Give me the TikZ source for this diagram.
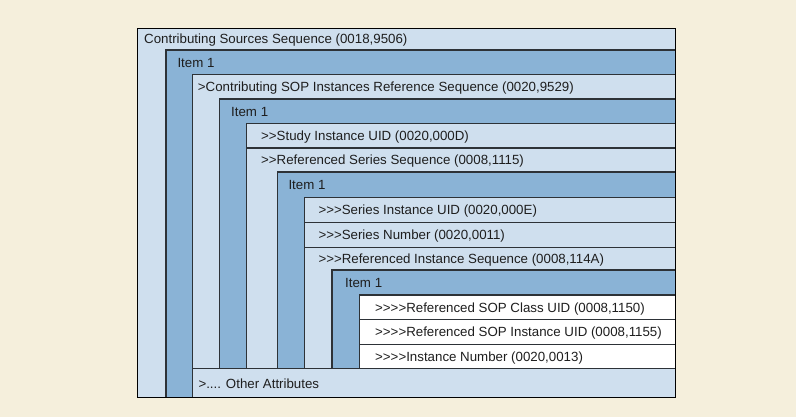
\documentclass[tikz,border=0pt]{standalone}
\usepackage{fontspec}
\setmainfont{Liberation Sans}[Ligatures=TeXOff]
\definecolor{bg}{RGB}{245,239,220}
\definecolor{lightb}{RGB}{207,223,238}
\definecolor{darkb}{RGB}{138,179,214}
\definecolor{edge}{RGB}{45,50,55}
\definecolor{txt}{RGB}{30,30,30}
\begin{document}
\begin{tikzpicture}[x=1pt,y=-1pt,
  lvl/.style={draw=edge,line width=1.4pt},
  lightbox/.style={lvl,fill=lightb},
  darkbox/.style={lvl,fill=darkb},
  whitebox/.style={lvl,fill=white},
  sep/.style={draw=edge,line width=1.4pt},
  lbl/.style={anchor=base west,inner sep=0pt,text=txt,font=\fontsize{13.3}{16}\selectfont}]
\useasboundingbox[fill=bg] (0,0) rectangle (796,417);
\def\R{675.7}
% nested levels
\path[lightbox] (137.7,28.3) rectangle (\R,397.7);
\path[darkbox]  (166,50) rectangle (\R,397.7);
\path[lightbox] (192.7,74.3) rectangle (\R,397.7);
\path[sep] (192.7,368.3) -- (\R,368.3);
\path[darkbox]  (219.3,99) rectangle (\R,368.3);
\path[lightbox] (246.7,123.3) rectangle (\R,368.3);
\path[sep] (246.7,148) -- (\R,148);
\path[darkbox]  (277.7,172) rectangle (\R,368.3);
\path[lightbox] (304.3,197.3) rectangle (\R,368.3);
\path[sep] (304.3,222.3) -- (\R,222.3);
\path[sep] (304.3,247.3) -- (\R,247.3);
\path[darkbox]  (332,270) rectangle (\R,368.3);
\path[whitebox] (359.3,295) rectangle (\R,368.3);
\path[sep] (359.3,319.3) -- (\R,319.3);
\path[sep] (359.3,344.3) -- (\R,344.3);
\draw[draw=black,line width=1.5pt] (137.7,28.3) rectangle (\R,397.7);
% labels
\node[lbl] (t0) at (144,43.3) {Contributing Sources Sequence (0018,9506)};
\node[lbl] (t1) at (177.3,67.3) {Item 1};
\node[lbl] (t2) at (197.7,91.7) {>Contributing SOP Instances Reference Sequence (0020,9529)};
\node[lbl] (t3) at (231,116.2) {Item 1};
\node[lbl] (t4a) at (261,140.7) {>>Study Instance UID (0020,000D)};
\node[lbl] (t4b) at (261,165) {>>Referenced Series Sequence (0008,1115)};
\node[lbl] (t5) at (288.3,189.7) {Item 1};
\node[lbl] (t6a) at (318.3,214.8) {>>>Series Instance UID (0020,000E)};
\node[lbl] (t6b) at (318.3,239.8) {>>>Series Number (0020,0011)};
\node[lbl] (t6c) at (318.3,263.7) {>>>Referenced Instance Sequence (0008,114A)};
\node[lbl] (t7) at (345,287.5) {Item 1};
\node[lbl] (t8a) at (375,312) {>>>>Referenced SOP Class UID (0008,1150)};
\node[lbl] (t8b) at (375,336.8) {>>>>Referenced SOP Instance UID (0008,1155)};
\node[lbl] (t8c) at (375,361.3) {>>>>Instance Number (0020,0013)};
\node[lbl] (t9) at (198.3,388.5) {>.... Other Attributes};
\end{tikzpicture}
\end{document}
